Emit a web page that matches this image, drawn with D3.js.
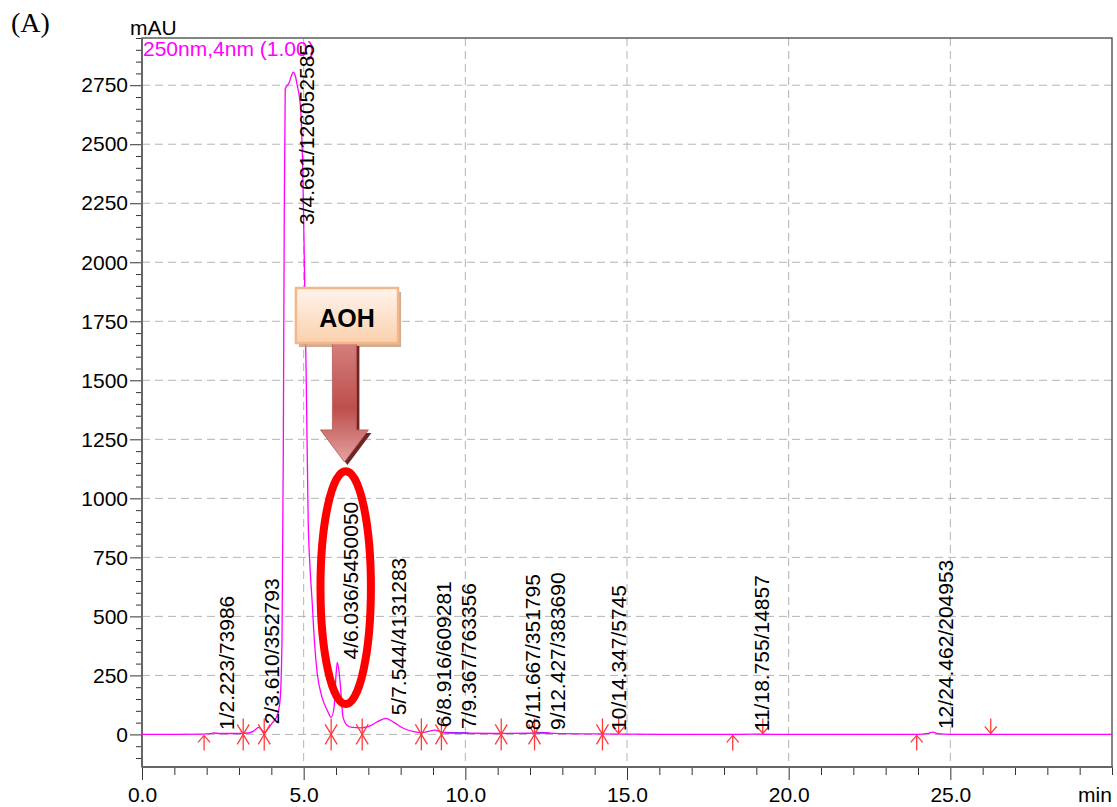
<!DOCTYPE html>
<html lang="en">
<head>
  <meta charset="UTF-8">
  <title>Chromatogram (A)</title>
  <script src="https://d3js.org/d3.v7.min.js"></script>
</head>
<style>
  body{
    margin:0;
    background:#fff;
  }
  svg text{
    font-family: "Liberation Sans", Arial, Helvetica, sans-serif;
  }
</style>
<body>
  <div id="chart"></div>
</body>
<script>
// chromatogram trace (time in min, signal in mAU)
var traceTime = [0, 1.0, 1.9, 2.1, 2.22, 2.4, 3.0, 3.3, 3.45, 3.61, 3.7, 3.8, 3.9, 4.02, 4.18, 4.27,
  4.33, 4.37, 4.40, 4.43, 4.55, 4.62, 4.68, 4.74, 4.80, 4.90, 4.97, 5.02, 5.08, 5.14, 5.20, 5.26,
  5.34, 5.42, 5.57, 5.73, 5.85, 5.94, 6.00, 6.04, 6.09, 6.13, 6.22, 6.35, 6.5, 6.75, 7.0, 7.3,
  7.544, 7.8, 8.1, 8.4, 8.64, 8.9, 9.05, 9.26, 9.5, 10, 11, 12, 12.5, 13, 14, 15, 18, 19, 20,
  24, 24.3, 24.46, 24.6, 25, 30];
var traceSignal = [0, 0, 1, 3, 6, 4, 4, 6, 14, 30, 18, 8, 25, 47, 80, 144,
  400, 1200, 2200, 2735, 2760, 2790, 2805, 2790, 2750, 2660, 2400, 2010, 1500, 906, 700, 567,
  380, 258, 157, 102, 72, 114, 250, 305, 270, 216, 72, 38, 30, 28, 33, 55,
  68, 50, 25, 12, 8, 14, 18, 10, 6, 5, 4, 5, 6, 3, 2, 1, 0, 1, 0,
  0, 4, 10, 3, 0, 0];

// integrated peaks
var peakTimes = [2.223, 3.610, 4.691, 6.036, 7.544, 8.916, 9.367, 11.667, 12.427, 14.347, 18.755, 24.462];
var peakAreas = [73986, 352793, 126052585, 5450050, 4131283, 609281, 763356, 351795, 383690, 5745, 14857, 204953];
var peakHeights = [6, 30, 2805, 305, 68, 18, 10, 5, 6, 2, 1, 10];

// peak start/end markers
var starTimes = [3.13, 3.78, 5.85, 6.81, 8.64, 9.26, 11.11, 12.14, 14.24];
var upArrowTimes = [1.92, 18.27, 23.96];
var downArrowTimes = [14.74, 19.2, 26.25];

// blue baseline pieces
var baseStart = [9.26, 12.14];
var baseEnd = [10.1, 12.6];

// axes
var xMajorTicks = [0, 5, 10, 15, 20, 25];
var yMajorTicks = [0, 250, 500, 750, 1000, 1250, 1500, 1750, 2000, 2250, 2500, 2750];

var width = 1117, height = 807;
var plotL = 142, plotR = 1112, plotT = 38, plotB = 767;

var xScale = d3.scaleLinear().domain([0, 30]).range([plotL, plotR]);
var yScale = d3.scaleLinear().domain([-138, 2950]).range([plotB, plotT]);

var svg = d3.select("#chart").append("svg")
  .attr("width", width)
  .attr("height", height);

var defs = svg.append("defs");
var boxGrad = defs.append("linearGradient").attr("id", "boxGrad")
  .attr("x1", 0).attr("y1", 0).attr("x2", 0).attr("y2", 1);
boxGrad.append("stop").attr("offset", "0%").attr("stop-color", "#fff4ec");
boxGrad.append("stop").attr("offset", "100%").attr("stop-color", "#fbd0ad");
var arrowGrad = defs.append("linearGradient").attr("id", "arrowGrad")
  .attr("x1", 0).attr("y1", 0).attr("x2", 0).attr("y2", 1);
arrowGrad.append("stop").attr("offset", "0%").attr("stop-color", "#d47f7c");
arrowGrad.append("stop").attr("offset", "55%").attr("stop-color", "#bd4f4c");
arrowGrad.append("stop").attr("offset", "100%").attr("stop-color", "#e3a3a1");

// grid lines
svg.append("g").selectAll("line")
  .data(yMajorTicks)
  .enter().append("line")
    .attr("x1", plotL).attr("x2", plotR)
    .attr("y1", function(d){return yScale(d);})
    .attr("y2", function(d){return yScale(d);})
    .attr("stroke", "#b4b4b4")
    .attr("stroke-dasharray", "8,5");
svg.append("g").selectAll("line")
  .data(xMajorTicks.slice(1))
  .enter().append("line")
    .attr("x1", function(d){return xScale(d);})
    .attr("x2", function(d){return xScale(d);})
    .attr("y1", plotT).attr("y2", plotB)
    .attr("stroke", "#b4b4b4")
    .attr("stroke-dasharray", "8,5");

// minor ticks
var xMinor = d3.range(1, 31).filter(function(d){return d % 5 != 0 || d == 30;});
var yMinor = d3.range(-100, 2951, 50).filter(function(d){return d % 250 != 0;});

svg.append("g")
  .attr("transform", "translate(0," + plotB + ")")
  .call(d3.axisBottom(xScale).tickValues(xMinor).tickSize(8).tickFormat("").tickSizeOuter(0))
  .call(function(g){ g.select(".domain").remove(); g.selectAll("line").attr("stroke", "#333"); });
svg.append("g")
  .attr("transform", "translate(" + plotL + ",0)")
  .call(d3.axisLeft(yScale).tickValues(yMinor).tickSize(6).tickFormat("").tickSizeOuter(0))
  .call(function(g){ g.select(".domain").remove(); g.selectAll("line").attr("stroke", "#333"); });

// major axes
var xAxis = svg.append("g")
  .attr("transform", "translate(0," + plotB + ")")
  .call(d3.axisBottom(xScale).tickValues(xMajorTicks).tickSize(13).tickPadding(7)
    .tickFormat(d3.format(".1f")).tickSizeOuter(0));
xAxis.select(".domain").remove();
xAxis.selectAll("line").attr("stroke", "#333");
xAxis.selectAll("text").attr("font-size", "21px").attr("fill", "#000")
  .style("font-family", "Liberation Sans, Arial, sans-serif");

var yAxis = svg.append("g")
  .attr("transform", "translate(" + plotL + ",0)")
  .call(d3.axisLeft(yScale).tickValues(yMajorTicks).tickSize(12).tickPadding(2)
    .tickFormat(d3.format("d")).tickSizeOuter(0));
yAxis.select(".domain").remove();
yAxis.selectAll("line").attr("stroke", "#333");
yAxis.selectAll("text").attr("font-size", "21px").attr("fill", "#000")
  .style("font-family", "Liberation Sans, Arial, sans-serif");

// plot frame
svg.append("rect")
  .attr("x", plotL).attr("y", plotT)
  .attr("width", plotR - plotL).attr("height", plotB - plotT)
  .attr("fill", "none").attr("stroke", "#444").attr("stroke-width", 1.3);
svg.append("line").attr("x1", plotL).attr("x2", plotL).attr("y1", plotT).attr("y2", plotB)
  .attr("stroke", "#666").attr("stroke-width", 2);
svg.append("line").attr("x1", plotL).attr("x2", plotR + 1).attr("y1", plotB).attr("y2", plotB)
  .attr("stroke", "#666").attr("stroke-width", 2);

// axis titles
svg.append("text").attr("x", 130).attr("y", 35).attr("font-size", "21px").text("mAU");
svg.append("text").attr("x", 1078).attr("y", 802).attr("font-size", "21px").text("min");
svg.append("text").attr("x", 11).attr("y", 32).attr("font-size", "28px")
  .style("font-family", "Liberation Serif, Times New Roman, serif").text("(A)");

// blue baselines
svg.append("g").selectAll("line")
  .data(baseStart)
  .enter().append("line")
    .attr("x1", function(d){return xScale(d);})
    .attr("x2", function(d,i){return xScale(baseEnd[i]);})
    .attr("y1", yScale(8)).attr("y2", yScale(6))
    .attr("stroke", "#3a3aff").attr("stroke-width", 1.6);

// trace
var traceData = traceTime.map(function(t, i){return [t, traceSignal[i]];});
var line = d3.line()
  .x(function(d){return xScale(d[0]);})
  .y(function(d){return yScale(d[1]);})
  .curve(d3.curveMonotoneX);
svg.append("path")
  .datum(traceData)
  .attr("d", line)
  .attr("fill", "none")
  .attr("stroke", "#ff00ff")
  .attr("stroke-width", 1.3);

// channel label
svg.append("text").attr("x", 143).attr("y", 56).attr("font-size", "21px")
  .attr("fill", "#ff00ff").text("250nm,4nm (1.00)");

// peak markers
var markRed = "#ff3b3b";
var y0 = yScale(0);
var stars = svg.append("g").selectAll("g")
  .data(starTimes)
  .enter().append("g")
    .attr("transform", function(d){return "translate(" + xScale(d) + "," + y0 + ")";})
    .attr("stroke", markRed).attr("stroke-width", 1.3);
stars.append("line").attr("x1", 0).attr("x2", 0).attr("y1", -16).attr("y2", 16);
stars.append("line").attr("x1", -6).attr("x2", 6).attr("y1", -10).attr("y2", 10);
stars.append("line").attr("x1", -6).attr("x2", 6).attr("y1", 10).attr("y2", -10);

svg.append("g").selectAll("path")
  .data(upArrowTimes)
  .enter().append("path")
    .attr("transform", function(d){return "translate(" + xScale(d) + "," + y0 + ")";})
    .attr("d", "M0,16 L0,1 M-6,8 L0,1 L6,8")
    .attr("fill", "none").attr("stroke", markRed).attr("stroke-width", 1.3);
svg.append("g").selectAll("path")
  .data(downArrowTimes)
  .enter().append("path")
    .attr("transform", function(d){return "translate(" + xScale(d) + "," + y0 + ")";})
    .attr("d", "M0,-16 L0,-1 M-6,-8 L0,-1 L6,-8")
    .attr("fill", "none").attr("stroke", markRed).attr("stroke-width", 1.3);

// peak labels (rotated, pushed apart when they would overlap)
var labelG = svg.append("g");
var prevLeft = -1000;
peakTimes.forEach(function(t, i){
  var lx = Math.max(xScale(t) + 5, prevLeft + 25);
  prevLeft = lx;
  var txt = labelG.append("text")
    .attr("font-size", "21px")
    .attr("fill", "#000")
    .attr("dy", "0.73em")
    .text((i + 1) + "/" + t.toFixed(3) + "/" + peakAreas[i]);
  var len = txt.node().getComputedTextLength();
  var by = Math.max(yScale(peakHeights[i]) - 3, plotT + len + 6);
  txt.attr("transform", "translate(" + lx + "," + by + ") rotate(-90)");
});

// AOH call-out
var cx = xScale(6.26);
var boxL = xScale(4.76), boxR = xScale(7.92);
var boxT = yScale(1891), boxB = yScale(1658);
svg.append("rect")
  .attr("x", boxL + 3).attr("y", boxT + 4)
  .attr("width", boxR - boxL).attr("height", boxB - boxT)
  .attr("fill", "#c49a78").attr("opacity", 0.8);
var shaftW = 12, headW = 24;
var shaftT = boxB, headB = yScale(1290), tipY = yScale(1154);
var arrowPts = [[cx - shaftW, shaftT], [cx + shaftW, shaftT], [cx + shaftW, headB], [cx + headW, headB],
  [cx, tipY], [cx - headW, headB], [cx - shaftW, headB]];
svg.append("polygon")
  .attr("points", arrowPts.map(function(p){return (p[0] + 3) + "," + (p[1] + 3);}).join(" "))
  .attr("fill", "#6e2523");
svg.append("polygon")
  .attr("points", arrowPts.map(function(p){return p.join(",");}).join(" "))
  .attr("fill", "url(#arrowGrad)")
  .attr("stroke", "#b85a58").attr("stroke-width", 0.8);
svg.append("rect")
  .attr("x", boxL).attr("y", boxT)
  .attr("width", boxR - boxL).attr("height", boxB - boxT)
  .attr("fill", "url(#boxGrad)")
  .attr("stroke", "#f5b689").attr("stroke-width", 2.5);
svg.append("text")
  .attr("x", (boxL + boxR) / 2).attr("y", boxT + 39)
  .attr("text-anchor", "middle")
  .attr("font-size", "25px").attr("font-weight", "bold")
  .text("AOH");

// red ellipse round peak 4
svg.append("ellipse")
  .attr("cx", xScale(6.3)).attr("cy", yScale(622))
  .attr("rx", xScale(6.3 + 0.78) - xScale(6.3))
  .attr("ry", yScale(0) - yScale(493))
  .attr("fill", "none")
  .attr("stroke", "#ff0000")
  .attr("stroke-width", 8);
</script>
</html>
